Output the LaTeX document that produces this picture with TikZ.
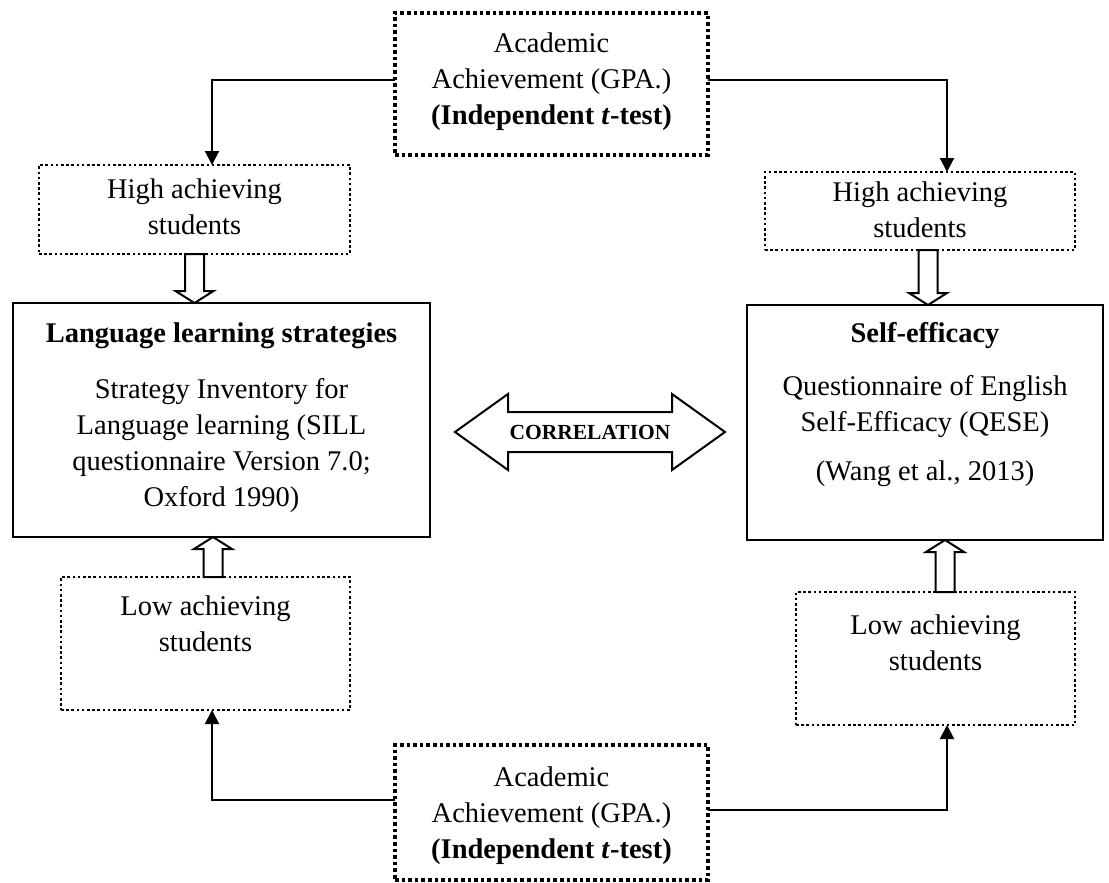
\documentclass[tikz,border=0pt]{standalone}
\usepackage{fontspec}
\setmainfont{Liberation Serif}
\usetikzlibrary{arrows.meta,calc}
\tikzset{
  every node/.style={inner sep=0pt, outer sep=0pt},
  txt/.style={align=center, font=\fontsize{28.5}{36}\selectfont},
  hd/.style={align=center, font=\fontsize{28.5}{36}\selectfont\bfseries},
  solidbox/.style={draw, line width=2pt},
  dotbig/.style={draw, line width=3.6pt, dash pattern=on 3.6pt off 3pt},
  dotsmall/.style={draw, line width=2.6pt, dash pattern=on 2.6pt off 2.6pt},
  conn/.style={line width=2pt, -{Triangle[length=14pt,width=14pt]}},
  blockarr/.style={draw, line width=2pt, fill=white, line join=miter},
}
% #1 tail coordinate, #2 tip coordinate (only its y is used), #3 head length (+ = pointing down, - = up)
\newcommand{\vblockarrow}[3]{%
  \draw[blockarr] let \p1=(#1), \p2=(#2) in
    ({\x1-9.5pt},\y1) -- ({\x1-9.5pt},{\y2+(#3)}) -- ({\x1-19pt},{\y2+(#3)}) -- (\x1,\y2)
    -- ({\x1+19pt},{\y2+(#3)}) -- ({\x1+9.5pt},{\y2+(#3)}) -- ({\x1+9.5pt},\y1) -- cycle;}
\begin{document}
\begin{tikzpicture}[x=1pt,y=-1pt]
\useasboundingbox (0,0) rectangle (1109,883);

% boxes
\node[dotbig, minimum width=313pt, minimum height=142pt] (T) at (551.5,84) {};
\node[dotbig, minimum width=313pt, minimum height=135pt] (B) at (551.5,812.5) {};
\node[dotsmall, minimum width=311pt, minimum height=89pt] (HL) at (194.5,209.5) {};
\node[dotsmall, minimum width=310pt, minimum height=78pt] (HR) at (920,211) {};
\node[solidbox, minimum width=417pt, minimum height=234pt] (ML) at (221.5,420) {};
\node[solidbox, minimum width=356pt, minimum height=235pt] (MR) at (925,422.5) {};
\node[dotsmall, minimum width=289pt, minimum height=133pt] (LL) at (205.5,643.5) {};
\node[dotsmall, minimum width=279pt, minimum height=133pt] (LR) at (935.5,658.5) {};

% texts
\node[txt] (Tt) at (551.5,82) {Academic\\Achievement (GPA.)\\\textbf{(Independent \textit{t}-test)}};
\node[txt] (Bt) at (551.5,816) {Academic\\Achievement (GPA.)\\\textbf{(Independent \textit{t}-test)}};
\node[txt] (HLt) at (194.5,207) {High achieving\\students};
\node[txt] (HRt) at (920,210) {High achieving\\students};
\node[hd] (MLh) at (221.5,336) {Language learning strategies};
\node[txt] (MLt) at (221.5,445) {Strategy Inventory for\\Language learning (SILL\\questionnaire Version 7.0;\\Oxford 1990)};
\node[hd] (MRh) at (925,336) {Self-efficacy};
\node[txt] (MRt) at (925,431) {Questionnaire of English\\Self-Efficacy (QESE)\\[13pt](Wang et al., 2013)};
\node[txt] (LLt) at (205.5,624) {Low achieving\\students};
\node[txt] (LRt) at (935.5,643) {Low achieving\\students};

% correlation double block arrow
\coordinate (corrc) at (590,432);
\draw[blockarr] let \p0=(corrc) in
  ({\x0-135pt},\y0) -- ({\x0-82pt},{\y0+38pt}) -- ({\x0-82pt},{\y0+20pt}) -- ({\x0+82pt},{\y0+20pt})
  -- ({\x0+82pt},{\y0+38pt}) -- ({\x0+135pt},\y0) -- ({\x0+82pt},{\y0-38pt}) -- ({\x0+82pt},{\y0-20pt})
  -- ({\x0-82pt},{\y0-20pt}) -- ({\x0-82pt},{\y0-38pt}) -- cycle;
\node[font=\fontsize{21.5}{24}\selectfont\bfseries] (corr) at (corrc) {CORRELATION};

% block arrows
\vblockarrow{HL.south}{ML.north}{12pt}
\vblockarrow{[xshift=8pt]HR.south}{MR.north}{12pt}
\vblockarrow{[xshift=7.5pt]LL.north}{ML.south}{-12pt}
\vblockarrow{[xshift=9.5pt]LR.north}{MR.south}{-12pt}

% connectors
\draw[conn] ([yshift=4pt]T.west) -| ([xshift=17.5pt]HL.north);
\draw[conn] ([yshift=4pt]T.east) -| ([xshift=27pt]HR.north);
\draw[conn] ([yshift=12.5pt]B.west) -| ([xshift=6.5pt]LL.south);
\draw[conn] ([yshift=2.5pt]B.east) -| ([xshift=11.5pt]LR.south);
\end{tikzpicture}
\end{document}
